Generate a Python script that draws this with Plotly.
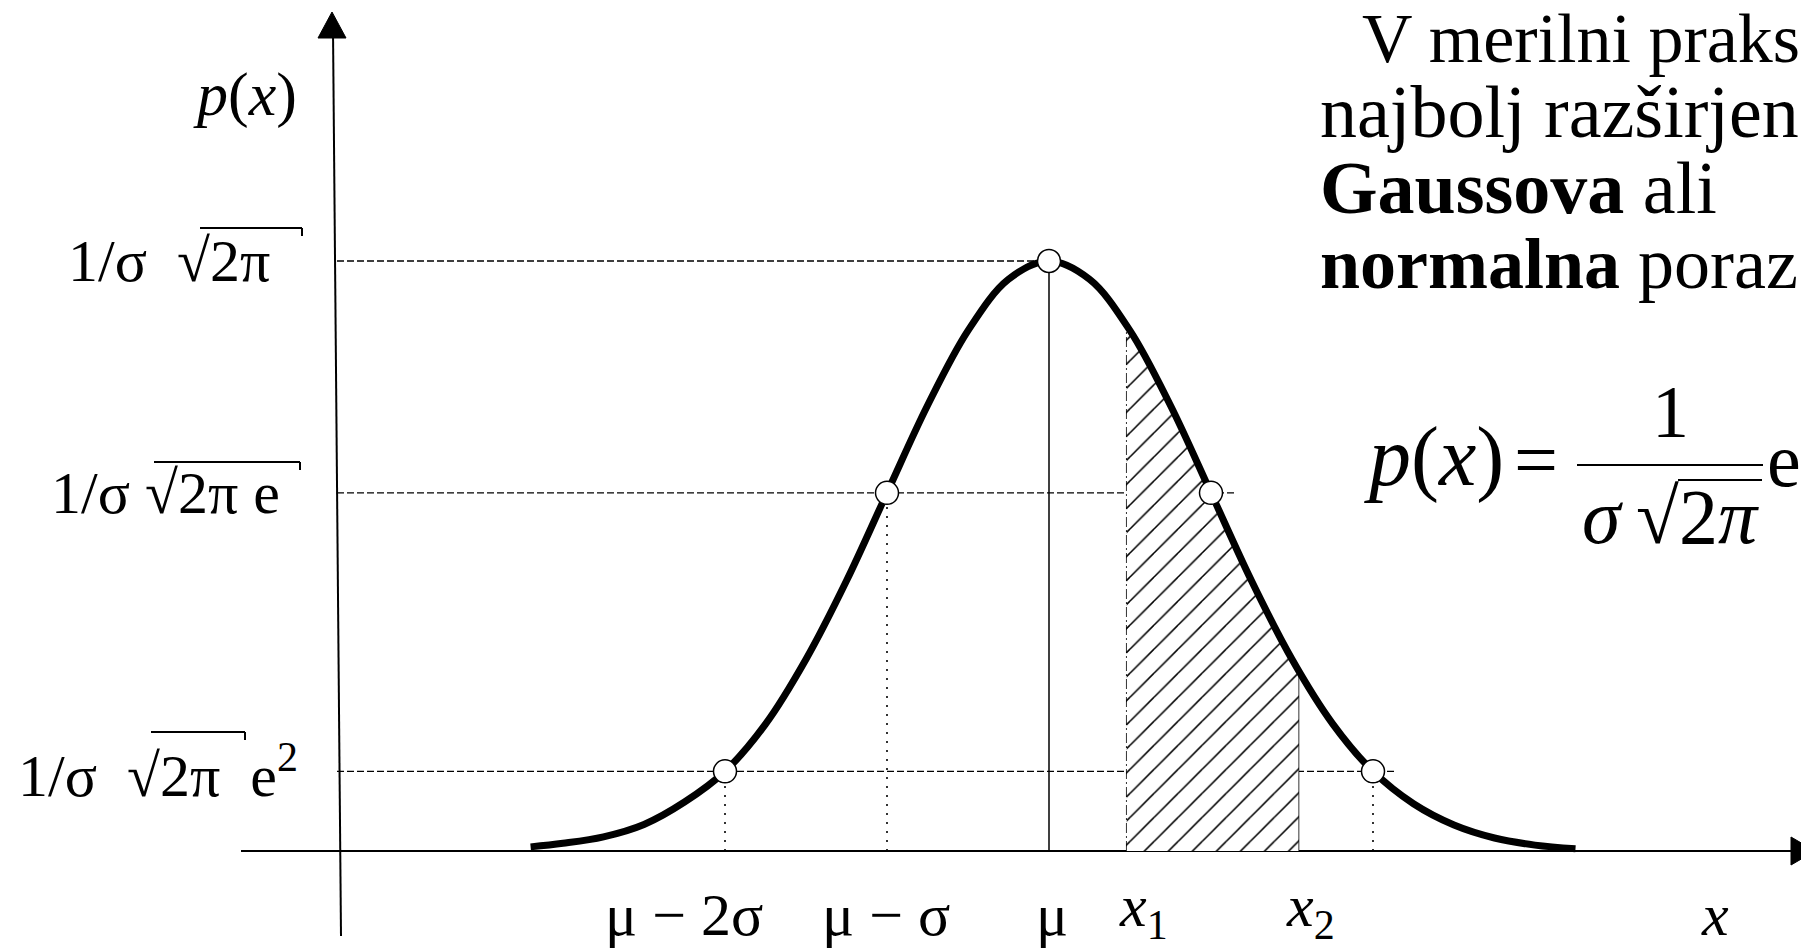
import plotly.graph_objects as go

# ---------------- data (x in units of sigma from mu, p relative to peak) ----------
curve_sigma = [-3.2, -3.0, -2.75, -2.5, -2.25, -2.0, -1.75, -1.5, -1.25, -1.0, -0.75, -0.5, -0.25,
               0.0, 0.25, 0.5, 0.75, 1.0, 1.25, 1.5, 1.75, 2.0, 2.25, 2.5, 2.75, 3.0, 3.25]
curve_p = [0.007, 0.013, 0.024, 0.045, 0.083, 0.135, 0.215, 0.325, 0.458, 0.607, 0.755, 0.882, 0.969,
           1.0, 0.969, 0.882, 0.755, 0.607, 0.458, 0.325, 0.216, 0.135, 0.080, 0.044, 0.022, 0.010, 0.004]

key_sigma = [-2, -1, 0, 1, 2]
key_p = [0.135, 0.607, 1.0, 0.607, 0.135]

hatch_sigma = [0.48, 0.75, 1.0, 1.25, 1.54]
hatch_p = [0.891, 0.755, 0.607, 0.458, 0.305]

ytick_vals = [1.0, 0.607, 0.135]
ytick_text = ["1/σ\u00a0 √2π", "1/σ √2π e", "1/σ\u00a0 √2π  e<sup>2</sup>"]
ytick_guide_end = [0.0, 1.15, 2.14]

xtick_vals = [-2, -1, 0, 0.48, 1.54]
xtick_text = ["μ − 2σ", "μ − σ", "μ", "<i>x</i><sub>1</sub>", "<i>x</i><sub>2</sub>"]
xtick_shift = [-41, -1, 3, 17, 12]
xtick_yshift = [0, 0, 0, 5, 5]

text_lines = ["V merilni praks",
              "najbolj razširjen",
              "<b>Gaussova</b> ali",
              "<b>normalna</b> poraz"]

# ---------------- pixel <-> data helpers (layout only) ----------------
W, H = 1801, 949
MU_PX, SIG_PX = 1049.0, 162.0
AX_PX, PEAK_PX = 851.0, 261.0
UNIT = AX_PX - PEAK_PX

def X(px):
    return (px - MU_PX) / SIG_PX

def Y(py):
    return (AX_PX - py) / UNIT

FONT = "Liberation Serif"
fig = go.Figure()

# hatched area x1..x2
fig.add_trace(go.Scatter(
    x=hatch_sigma, y=hatch_p, mode="lines", line=dict(width=0, shape="spline"),
    fill="tozeroy", fillcolor="rgba(0,0,0,0)",
    fillpattern=dict(shape="/", size=17, solidity=0.09, fgcolor="black", bgcolor="white", fgopacity=1),
    hoverinfo="skip"))

# gaussian curve
fig.add_trace(go.Scatter(
    x=curve_sigma, y=curve_p, mode="lines",
    line=dict(color="black", width=7, shape="spline", smoothing=1.0), hoverinfo="skip"))

# characteristic points
fig.add_trace(go.Scatter(
    x=key_sigma, y=key_p, mode="markers",
    marker=dict(size=23, color="white", line=dict(color="black", width=1.5)), hoverinfo="skip"))

shapes = []
# y axis (slightly tilted like the scan) and x axis
shapes.append(dict(type="line", x0=X(333), y0=Y(30), x1=X(341), y1=Y(936),
                   line=dict(color="black", width=2), layer="below"))
shapes.append(dict(type="line", x0=X(241), y0=0, x1=X(1801), y1=0,
                   line=dict(color="black", width=2), layer="below"))
# arrow heads
shapes.append(dict(type="path", path=f"M {X(318)},{Y(38)} L {X(332)},{Y(12)} L {X(346)},{Y(38)} Z",
                   fillcolor="black", line=dict(color="black", width=1)))
shapes.append(dict(type="path", path=f"M {X(1791)},{Y(837)} L {X(1815)},{Y(851)} L {X(1791)},{Y(865)} Z",
                   fillcolor="black", line=dict(color="black", width=1)))

# horizontal dashed guides
for v, e in zip(ytick_vals, ytick_guide_end):
    shapes.append(dict(type="line", x0=X(337), y0=v, x1=e, y1=v,
                       line=dict(color="black", width=1.3, dash="7px,3px"), layer="below"))

# vertical guides
for s, p in zip(key_sigma, key_p):
    if s == 0:
        shapes.append(dict(type="line", x0=s, y0=0, x1=s, y1=p,
                           line=dict(color="black", width=1.5), layer="below"))
    elif s != 1:
        shapes.append(dict(type="line", x0=s, y0=0, x1=s, y1=p,
                           line=dict(color="black", width=1.6, dash="2px,7px"), layer="below"))
# hatch borders
shapes.append(dict(type="line", x0=hatch_sigma[0], y0=0, x1=hatch_sigma[0], y1=hatch_p[0],
                   line=dict(color="black", width=1.6, dash="10px,3px,2px,3px"), layer="below"))
shapes.append(dict(type="line", x0=hatch_sigma[-1], y0=0, x1=hatch_sigma[-1], y1=hatch_p[-1],
                   line=dict(color="black", width=1.6), layer="below"))

annotations = []
# y labels
ylab_right = [272, 282, 300]
for v, t, r in zip(ytick_vals, ytick_text, ylab_right):
    annotations.append(dict(x=X(r), y=v, text=t, showarrow=False, xanchor="right", yanchor="middle",
                            font=dict(family=FONT, size=60, color="black")))
# radical overlines for the y labels
over = [(200, 302, 228), (154, 300, 462), (151, 245, 732)]
for a, b, yy in over:
    shapes.append(dict(type="line", x0=X(a), y0=Y(yy), x1=X(b), y1=Y(yy), line=dict(color="black", width=2)))
    shapes.append(dict(type="line", x0=X(b), y0=Y(yy), x1=X(b), y1=Y(yy + 8), line=dict(color="black", width=2)))

annotations.append(dict(x=X(299), y=Y(94), text="<i>p</i>(<i>x</i>)", showarrow=False, xanchor="right",
                        yanchor="middle", font=dict(family=FONT, size=62, color="black")))

# x labels
for v, t, sh, ys in zip(xtick_vals, xtick_text, xtick_shift, xtick_yshift):
    annotations.append(dict(x=v, y=Y(915), text=t, showarrow=False, xanchor="center", yanchor="middle",
                            xshift=sh, yshift=ys, font=dict(family=FONT, size=60, color="black")))
annotations.append(dict(x=X(1715), y=Y(915), text="<i>x</i>", showarrow=False, xanchor="center",
                        yanchor="middle", font=dict(family=FONT, size=60, color="black")))

# right-hand text block
line_left = [1360, 1318, 1318, 1318]
line_mid = [38, 112, 188, 264]
line_size = [70, 74, 74, 72]
for t, l, c, s in zip(text_lines, line_left, line_mid, line_size):
    annotations.append(dict(x=X(l), y=Y(c), text=t, showarrow=False, xanchor="left", yanchor="middle",
                            font=dict(family=FONT, size=s, color="black")))

# formula
annotations.append(dict(x=X(1362), y=Y(457), text="<i>p</i>(<i>x</i>)", showarrow=False,
                        xanchor="left", yanchor="middle", font=dict(family=FONT, size=84, color="black")))
annotations.append(dict(x=X(1536), y=Y(459), text="=", showarrow=False,
                        xanchor="center", yanchor="middle", font=dict(family=FONT, size=78, color="black")))
annotations.append(dict(x=X(1670), y=Y(412), text="1", showarrow=False, xanchor="center",
                        yanchor="middle", font=dict(family=FONT, size=74, color="black")))
annotations.append(dict(x=X(1670), y=Y(516), text="<i>σ</i>\u2009√2<i>π</i>", showarrow=False,
                        xanchor="center", yanchor="middle", font=dict(family=FONT, size=78, color="black")))
annotations.append(dict(x=X(1765), y=Y(460), text="e", showarrow=False, xanchor="left",
                        yanchor="middle", font=dict(family=FONT, size=76, color="black")))
shapes.append(dict(type="line", x0=X(1577), y0=Y(465), x1=X(1763), y1=Y(465), line=dict(color="black", width=2)))
shapes.append(dict(type="line", x0=X(1678), y0=Y(480), x1=X(1762), y1=Y(480), line=dict(color="black", width=2)))

fig.update_layout(
    width=W, height=H, margin=dict(l=0, r=0, t=0, b=0),
    paper_bgcolor="white", plot_bgcolor="white", showlegend=False,
    xaxis=dict(visible=False, range=[X(0), X(W)], fixedrange=True),
    yaxis=dict(visible=False, range=[Y(H), Y(0)], fixedrange=True),
    shapes=shapes, annotations=annotations,
)

fig.write_html("out.html")
